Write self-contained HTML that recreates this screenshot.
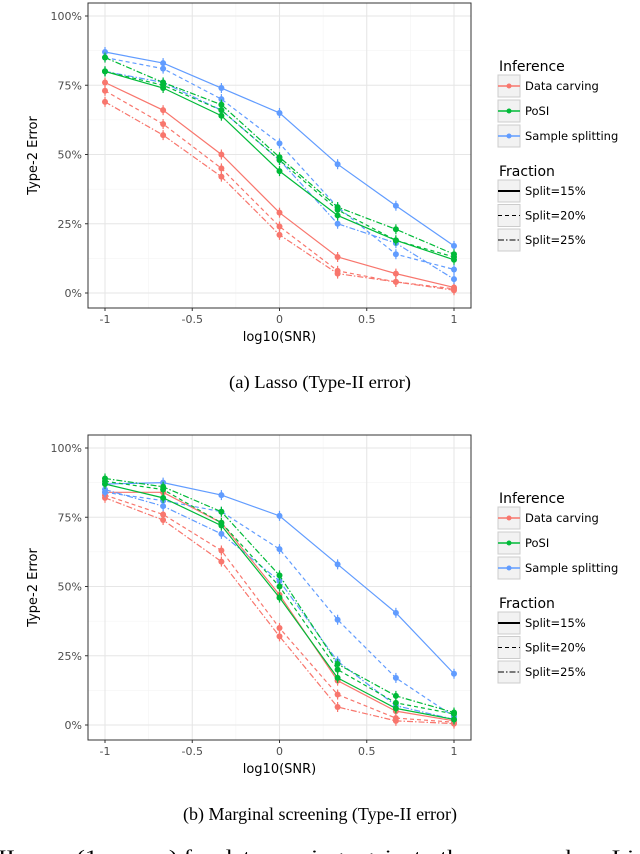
<!DOCTYPE html>
<html><head><meta charset="utf-8"><style>
body{margin:0;background:#fff;width:640px;height:854px;overflow:hidden;font-family:"DejaVu Sans","Liberation Sans",sans-serif}
svg{position:absolute;left:0;top:0}
</style></head><body>
<svg id="s" width="640" height="854"></svg>
<script>
const xVals=[-1,-0.667,-0.333,0,0.333,0.667,1];
const xTicks=[-1,-0.5,0,0.5,1];
const xTickLabels=["-1","-0.5","0","0.5","1"];
const yTicks=[0,25,50,75,100];
const yTickLabels=["0%","25%","50%","75%","100%"];
const methods=["Data carving","PoSI","Sample splitting"];
const fractions=["Split=15%","Split=20%","Split=25%"];
// Lasso
const lassoCarve15=[76,66,50,29,13,7,2];
const lassoCarve20=[73,61,45,24,8,4,1.5];
const lassoCarve25=[69,57,42,21,7,4,1];
const lassoPosi15=[80,74,64,44,28,19,12];
const lassoPosi20=[80,75,66,48,30,19,13];
const lassoPosi25=[85,76,68,49,31,23,14];
const lassoSplit15=[87,83,74,65,46.5,31.5,17];
const lassoSplit20=[85,81,70,54,31,14,8.5];
const lassoSplit25=[80,76,66,48,25,18,5];
// Marginal screening
const msCarve15=[84,84,73,47,16,5,1.5];
const msCarve20=[83,76,63,35,11,2.5,1];
const msCarve25=[82,74,59,32,6.5,1.5,0.5];
const msPosi15=[87,82,72,46,17,6,2];
const msPosi20=[88,85,73,50,20,8,4];
const msPosi25=[89,86,77,54,22,10.5,4.5];
const msSplit15=[87,87.5,83,75.5,58,40.5,18.5];
const msSplit20=[84,81,77,63.5,38,17,3];
const msSplit25=[85,79,69,52,23,7,2];

const colors=["#F8766D","#00BA38","#619CFF"];
const dashes=["none","4,3","6,2,1.5,2"];
const NS="http://www.w3.org/2000/svg";
const svg=document.getElementById('s');
function el(t,a,p){const e=document.createElementNS(NS,t);for(const k in a)e.setAttribute(k,a[k]);(p||svg).appendChild(e);return e;}

function panel(off,series,caption,capW,pname){
  const g=el('g',{});
  
  
  const L=88,R=471,T=off+3,B=off+308;
  const y0=off+293,y100=off+16,xa=105,xb=454;
  const sx=v=>xa+(v+1)/2*(xb-xa);
  const sy=v=>y0+(y100-y0)*v/100;
  el('rect',{x:L,y:T,width:R-L,height:B-T,fill:'#fff'},g);
  for(let i=0;i<4;i++){const v=12.5+25*i;el('line',{x1:L,x2:R,y1:sy(v),y2:sy(v),stroke:'#f2f2f2','stroke-width':0.6},g);}
  for(let i=0;i<4;i++){const v=-0.75+0.5*i;el('line',{y1:T,y2:B,x1:sx(v),x2:sx(v),stroke:'#f2f2f2','stroke-width':0.6},g);}
  yTicks.forEach((v,i)=>{
    el('line',{x1:L,x2:R,y1:sy(v),y2:sy(v),stroke:'#e6e6e6','stroke-width':1.1},g);
    el('line',{x1:L-3,x2:L,y1:sy(v),y2:sy(v),stroke:'#333'},g);
    const t=el('text',{x:L-6,y:sy(v)+4,'text-anchor':'end','font-size':11,fill:'#4d4d4d'},g);t.textContent=yTickLabels[i];
    
    
  });
  xTicks.forEach((v,i)=>{
    el('line',{y1:T,y2:B,x1:sx(v),x2:sx(v),stroke:'#e6e6e6','stroke-width':1.1},g);
    el('line',{y1:B,y2:B+3,x1:sx(v),x2:sx(v),stroke:'#333'},g);
    const t=el('text',{x:sx(v),y:B+15,'text-anchor':'middle','font-size':11,fill:'#4d4d4d'},g);t.textContent=xTickLabels[i];
    
    
  });
  series.forEach(([m,f,arr])=>{
    const pts=arr.map((v,i)=>sx(xVals[i])+','+sy(v)).join(' ');
    const pl=el('polyline',{points:pts,fill:'none',stroke:colors[m],'stroke-width':1.2,'stroke-dasharray':dashes[f]},g);
    
    
    arr.forEach((v,i)=>{
      el('line',{x1:sx(xVals[i]),x2:sx(xVals[i]),y1:sy(v)-5,y2:sy(v)+5,stroke:colors[m],'stroke-width':1.2},g);
      const c=el('circle',{cx:sx(xVals[i]),cy:sy(v),r:3,fill:colors[m]},g);
      
      
    });
  });
  el('rect',{x:L,y:T,width:R-L,height:B-T,fill:'none',stroke:'#333','stroke-width':1},g);
  let t=el('text',{x:(L+R)/2,y:off+341,'text-anchor':'middle','font-size':13,fill:'#000'},g);t.textContent='log10(SNR)';
  
  t=el('text',{x:0,y:0,'text-anchor':'middle','font-size':13,fill:'#000',transform:`translate(37,${(T+B)/2}) rotate(-90)`},g);t.textContent='Type-2 Error';
  
  t=el('text',{x:320-capW/2,y:off+388,'font-size':18,'font-family':'Liberation Serif, serif',fill:'#000',textLength:capW,lengthAdjust:'spacingAndGlyphs'},g);t.textContent=caption;
  
  // legend
  const lg=el('g',{},g);
  
  
  t=el('text',{x:499,y:off+71,'font-size':14,fill:'#000'},lg);t.textContent='Inference';
  methods.forEach((m,i)=>{
    const yy=off+75+25*i;
    el('rect',{x:498,y:yy,width:22,height:22,fill:'#f2f2f2',stroke:'#ccc'},lg);
    el('line',{x1:498,x2:520,y1:yy+11,y2:yy+11,stroke:colors[i],'stroke-width':1.5},lg);
    el('circle',{cx:509,cy:yy+11,r:2.5,fill:colors[i]},lg);
    const tt=el('text',{x:525,y:yy+15,'font-size':11.5,fill:'#000'},lg);tt.textContent=m;
    
  });
  t=el('text',{x:499,y:off+176,'font-size':14,fill:'#000'},lg);t.textContent='Fraction';
  fractions.forEach((f,i)=>{
    const yy=off+180+24.5*i;
    el('rect',{x:498,y:yy,width:22,height:22,fill:'#f2f2f2',stroke:'#ccc'},lg);
    el('line',{x1:498,x2:520,y1:yy+11,y2:yy+11,stroke:'#000','stroke-width':i==0?2:1,'stroke-dasharray':dashes[i]},lg);
    const tt=el('text',{x:525,y:yy+15,'font-size':11.5,fill:'#000'},lg);tt.textContent=f;
    
  });
}
panel(0,[[0,0,lassoCarve15],[0,1,lassoCarve20],[0,2,lassoCarve25],[2,0,lassoSplit15],[2,1,lassoSplit20],[2,2,lassoSplit25],[1,0,lassoPosi15],[1,1,lassoPosi20],[1,2,lassoPosi25]],'(a) Lasso (Type-II error)',182,'lasso-panel');
panel(432,[[0,0,msCarve15],[0,1,msCarve20],[0,2,msCarve25],[2,0,msSplit15],[2,1,msSplit20],[2,2,msSplit25],[1,0,msPosi15],[1,1,msPosi20],[1,2,msPosi25]],'(b) Marginal screening (Type-II error)',274,'marginal-panel');
const ft=el('text',{x:-2,y:863,'font-size':19,'font-family':'Liberation Serif, serif',fill:'#000',textLength:660,lengthAdjust:'spacingAndGlyphs'});
ft.textContent='II error (1-power) for data carving against other approaches. Line';


</script>
</body></html>
